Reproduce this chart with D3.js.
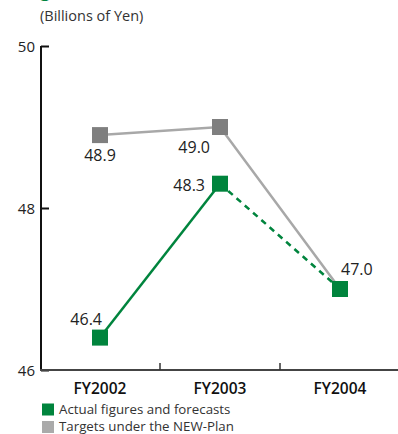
<!DOCTYPE html>
<html>
<head>
<meta charset="utf-8">
<script src="https://cdn.jsdelivr.net/npm/d3@7/dist/d3.min.js"></script>
<style>
  html, body { margin: 0; padding: 0; background: #fff; }
  svg { display: block; font-family: "Open Sans", "Noto Sans", sans-serif; }
</style>
</head>
<body>
<svg id="chart" width="398" height="434"></svg>
<script>
// Fiscal years on the x axis
const years = ["FY2002", "FY2003", "FY2004"];
// Actual figures and forecasts (billions of yen)
const actual = [46.4, 48.3, 47.0];
// Targets under the NEW-Plan (billions of yen)
const targets = [48.9, 49.0, 47.0];
// Value axis ticks
const yTicks = [46, 48, 50];
const legendLabels = ["Actual figures and forecasts", "Targets under the NEW-Plan"];

const green = "#00843d";
const greyMarker = "#7f7f7f";
const greyLine = "#a8a8a8";

const svg = d3.select("#chart");
const W = 398;

const x = d3.scaleBand().domain(years).range([40, 400]);
const y = d3.scaleLinear().domain([46, 50]).range([370, 46]);
const cx = d => x(d) + x.bandwidth() / 2;

// Heading fragment and unit caption
svg.append("text").attr("x", 40).attr("y", -3)
  .attr("fill", green).attr("font-size", 18).attr("font-weight", 600).text("g");
svg.append("text").attr("x", 40).attr("y", 21)
  .attr("fill", "#333").attr("font-size", 14.5).text("(Billions of Yen)");

// Y axis
const yAxis = svg.append("g").attr("transform", "translate(41,0)")
  .call(d3.axisRight(y).tickValues(yTicks).tickSize(8).tickFormat(""));
yAxis.select(".domain").attr("stroke", "#111").attr("stroke-width", 2)
  .attr("d", `M0,${y(50)}V${y(46)}`);
yAxis.selectAll(".tick line").attr("stroke", "#111").attr("stroke-width", 2);
svg.append("g").selectAll("text").data(yTicks).join("text")
  .attr("x", 35).attr("y", d => y(d) + 5.5)
  .attr("text-anchor", "end").attr("font-size", 15).attr("fill", "#222")
  .text(d => d);

// X axis
const xAxis = svg.append("g").attr("transform", `translate(0,${y(46)})`)
  .call(d3.axisTop(x).tickValues(years.slice(1)).tickSize(7).tickFormat("")
    .offset(0));
xAxis.select(".domain").attr("stroke", "#444").attr("stroke-width", 2)
  .attr("d", `M40,0H${W}`);
xAxis.selectAll(".tick").attr("transform", d => `translate(${x(d)},0)`);
xAxis.selectAll(".tick line").attr("stroke", "#333").attr("stroke-width", 1.5);
svg.append("g").selectAll("text").data(years).join("text")
  .attr("x", d => cx(d)).attr("y", 393.5)
  .attr("text-anchor", "middle").attr("font-size", 15.5).attr("font-weight", 600)
  .attr("fill", "#111").text(d => d);

// Target line
const line = d3.line().x((d, i) => cx(years[i])).y(d => y(d));
svg.append("path").datum(targets).attr("d", line)
  .attr("fill", "none").attr("stroke", greyLine).attr("stroke-width", 2.5);

// Actual line: solid for results, dashed for the forecast segment
svg.append("path").datum(actual.slice(0, 2)).attr("d", line)
  .attr("fill", "none").attr("stroke", green).attr("stroke-width", 2.5);
const fline = d3.line().x((d, i) => cx(years[i + 1])).y(d => y(d));
svg.append("path").datum(actual.slice(1)).attr("d", fline)
  .attr("fill", "none").attr("stroke", green).attr("stroke-width", 2.5)
  .attr("stroke-dasharray", "6,5");

// Markers
const s = 16;
svg.append("g").selectAll("rect").data(targets).join("rect")
  .attr("x", (d, i) => cx(years[i]) - s / 2).attr("y", d => y(d) - s / 2)
  .attr("width", s).attr("height", s).attr("fill", greyMarker);
svg.append("g").selectAll("rect").data(actual).join("rect")
  .attr("x", (d, i) => cx(years[i]) - s / 2).attr("y", d => y(d) - s / 2)
  .attr("width", s).attr("height", s).attr("fill", green);

// Value labels
const lbl = (txt, px, py, anchor) => svg.append("text")
  .attr("x", px).attr("y", py).attr("text-anchor", anchor)
  .attr("font-size", 16).attr("fill", "#222").text(txt);
lbl(targets[0].toFixed(1), cx(years[0]), y(targets[0]) + 25.5, "middle");
lbl(targets[1].toFixed(1), cx(years[1]) - 10, y(targets[1]) + 25.5, "end");
lbl(actual[1].toFixed(1), cx(years[1]) - 15, y(actual[1]) + 7.5, "end");
lbl(actual[0].toFixed(1), cx(years[0]) + 2, y(actual[0]) - 12.5, "end");
lbl(actual[2].toFixed(1), cx(years[2]) + 1, y(actual[2]) - 14, "start");

// Legend
const legend = svg.append("g");
[green, "#aaaaaa"].forEach((c, i) => {
  legend.append("rect").attr("x", 42).attr("y", 403.5 + i * 17.5)
    .attr("width", 12).attr("height", 12).attr("fill", c);
  legend.append("text").attr("x", 59).attr("y", 414 + i * 17)
    .attr("font-size", 13.3).attr("fill", "#333").text(legendLabels[i]);
});
</script>
</body>
</html>
